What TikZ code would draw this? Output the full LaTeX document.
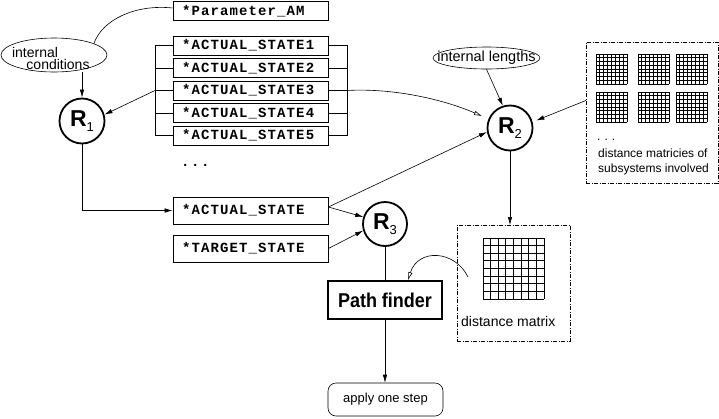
\documentclass[tikz,border=0pt]{standalone}
\usepackage{fontspec}
\setmainfont{Liberation Sans}
\newfontfamily\sfont{Liberation Sans}
\newfontfamily\sfnarrow[FakeStretch=0.9]{Liberation Sans}
\newfontfamily\codefont[LetterSpace=8]{Liberation Mono}
\usetikzlibrary{arrows.meta,shapes.geometric,calc}
\newcommand\Rlab[1]{{\sfont\bfseries\fontsize{23}{23}\selectfont R}\raisebox{-5pt}{\sfont\fontsize{13}{13}\selectfont #1}}
\newcommand\cellgrid[4]{%
  \foreach \k in {0,...,8}{%
    \draw[gridline] ({#1+\k*#3/8},#2) -- ({#1+\k*#3/8},{#2+#4});
    \draw[gridline] (#1,{#2+\k*#4/8}) -- ({#1+#3},{#2+\k*#4/8});
  }}
\tikzset{
  codebox/.style={draw, line width=0.8pt, minimum height=19pt, text width=137pt,
    inner xsep=9pt, inner ysep=0pt, align=left,
    font=\codefont\bfseries\fontsize{14}{16}\selectfont},
  rcirc/.style={draw, circle, line width=1.8pt, minimum size=45pt, inner sep=0pt},
  arr/.style={-{Latex[length=8pt,width=4.5pt]}, line width=0.6pt},
  oarr/.style={-{Latex[open,length=8pt,width=4.5pt]}, line width=0.6pt},
  ln/.style={line width=0.6pt},
  ddbox/.style={draw, line width=0.8pt, dash pattern=on 4pt off 1.5pt on 1pt off 1.5pt},
  gridline/.style={line width=0.9pt},
  txt/.style={font=\sfont\fontsize{#1}{#1}\selectfont, inner sep=0pt},
}
\begin{document}
\begin{tikzpicture}[x=1pt,y=-1pt]
\useasboundingbox (0,0) rectangle (719,418);

% code boxes
\node[codebox] (pam) at (250.5,11) {*Parameter\_AM};
\node[codebox] (s1) at (250.5,45.5) {*ACTUAL\_STATE1};
\node[codebox] (s2) at (250.5,68) {*ACTUAL\_STATE2};
\node[codebox] (s3) at (250.5,90.5) {*ACTUAL\_STATE3};
\node[codebox] (s4) at (250.5,113) {*ACTUAL\_STATE4};
\node[codebox] (s5) at (250.5,135.5) {*ACTUAL\_STATE5};
\node[anchor=base west, inner sep=0pt, font=\codefont\bfseries\fontsize{14}{16}\selectfont] (dots1) at (181,166) {.\hspace{1.6pt}.\hspace{1.6pt}.};
\node[codebox, minimum height=27pt] (as) at (250.5,210.5) {*ACTUAL\_STATE};
\node[codebox, minimum height=27pt] (ts) at (250.5,248.5) {*TARGET\_STATE};

% R circles
\node[rcirc] (r1) at (82,121) {\Rlab{1}};
\node[rcirc] (r2) at (510,128) {\Rlab{2}};
\node[rcirc, minimum size=44pt] (r3) at (385,224) {\Rlab{3}};

% ellipses
\node[draw, ellipse, line width=0.6pt, minimum width=106pt, minimum height=34pt] (ic) at (54,55) {};
\node[txt=14, anchor=base] (ictext1) at (35,57) {internal};
\node[txt=14, anchor=base] (ictext2) at (58,69) {conditions};
\node[draw, ellipse, line width=0.6pt, minimum width=107pt, minimum height=22pt] (il) at (486.5,58) {};
\node[txt=14.5] (iltext) at (486.5,58) {internal lengths};

% top right dashed box
\node[ddbox, minimum width=132pt, minimum height=141pt, anchor=north west, inner sep=0pt] (dms) at (586,42) {};
\cellgrid{596}{54}{31}{30}
\cellgrid{638}{54}{31}{30}
\cellgrid{676}{54}{31}{30}
\cellgrid{596}{92}{31}{30}
\cellgrid{638}{92}{31}{30}
\cellgrid{676}{92}{31}{30}
\node[txt=12, anchor=base west] (dots2) at (597,140) {.\hspace{4pt}.\hspace{4pt}.};
\node[txt=12, anchor=base west] (dmt1) at (598,157) {distance matricies of};
\node[txt=12, anchor=base west] (dmt2) at (598,172) {subsystems involved};

% lower dashed box
\node[ddbox, minimum width=113pt, minimum height=116pt, anchor=north west, inner sep=0pt] (dmb) at (457,225) {};
\cellgrid{483}{238}{61}{61}
\node[txt=14, anchor=base west] (dmtext) at (461,326) {distance matrix};
\coordinate (cstart) at (468,277);

% path finder, apply
\node[draw, line width=1.8pt, minimum width=114pt, minimum height=38pt, inner sep=0pt,
  font=\sfnarrow\bfseries\fontsize{20}{20}\selectfont] (pf) at (385,300) {Path finder};
\node[draw, rounded corners=8pt, line width=0.6pt, minimum width=115pt, minimum height=33pt,
  inner sep=0pt, font=\sfont\fontsize{13}{13}\selectfont] (aos) at (385.5,399.5) {apply one step};

% brackets
\coordinate (blx) at (155,0);
\coordinate (brx) at (347,0);
\draw[ln] (s1.west) -- (s1.west -| blx) -- (s5.west -| blx) -- (s5.west);
\foreach \s in {s2,s3,s4} \draw[ln] (\s.west) -- (\s.west -| blx);
\draw[ln] (s1.east) -- (s1.east -| brx) -- (s5.east -| brx) -- (s5.east);
\foreach \s in {s2,s3,s4} \draw[ln] (\s.east) -- (\s.east -| brx);

% connectors
\draw[ln] (ic.16) .. controls (102,20) and (135,4) .. ($(pam.west)+(0,-3)$);
\draw[arr] (s3.west -| blx) -- (r1.16);
\draw[oarr, shorten >=7pt] (s3.east -| brx) .. controls (390,88) and (440,98) .. (r2.157);
\draw[arr] (ic.south -| r1) -- (r1.north);
\draw[arr] (r1.south) |- (as.west);
\draw[arr] ($(as.east)+(0,-3.5)$) -- (r2.190);
\draw[arr] ($(as.east)+(0,-3.5)$) -- (r3.162);
\draw[arr] (ts.east) -- (r3.197);
\draw[arr] (il.south) -- (r2.108);
\draw[arr, shorten >=4pt] ($(dms.west)+(0,-12.5)$) -- (r2.15);
\draw[arr] (r2.south) -- (r2.south |- dmb.north);
\draw[oarr] (cstart) .. controls (455,250) and (418,248) .. ($(pf.north)+(23,0)$);
\draw[ln] (r3.south) -- (pf.north);
\draw[arr] (pf.south) -- (pf.south |- aos.north);
\end{tikzpicture}
\end{document}
